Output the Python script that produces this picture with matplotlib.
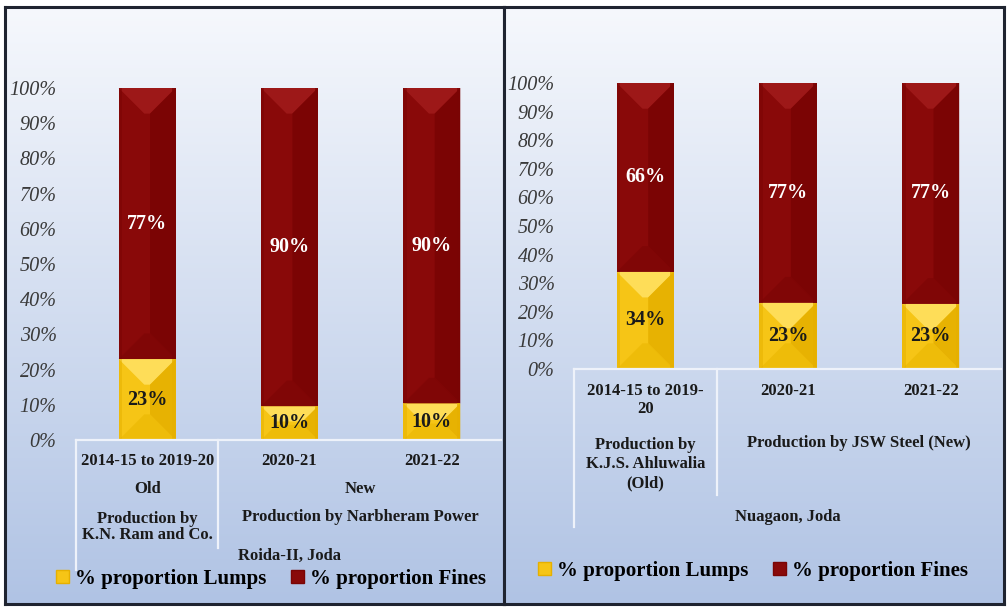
import numpy as np
import matplotlib
matplotlib.use("Agg")
import matplotlib.pyplot as plt
from matplotlib.patches import Polygon, Patch
from matplotlib.lines import Line2D
import matplotlib.transforms as mtransforms

# ---------------- data ----------------
years_left = ["2014-15 to 2019-20", "2020-21", "2021-22"]
lumps_left = [23, 9.6, 10.4]
fines_left = [77, 90.4, 89.6]
lumps_left_lbl = ["23%", "10%", "10%"]
fines_left_lbl = ["77%", "90%", "90%"]
group_left = ["Old", "New"]
producer_left = ["Production by\nK.N. Ram and Co.", "Production by Narbheram Power"]
mine_left = "Roida-II, Joda"

years_right = ["2014-15 to 2019-\n20", "2020-21", "2021-22"]
lumps_right = [34, 23.2, 22.8]
fines_right = [66, 76.8, 77.2]
lumps_right_lbl = ["34%", "23%", "23%"]
fines_right_lbl = ["66%", "77%", "77%"]
producer_right = ["Production by\nK.J.S. Ahluwalia\n(Old)", "Production by JSW Steel (New)"]
mine_right = "Nuagaon, Joda"

yticks = [0, 10, 20, 30, 40, 50, 60, 70, 80, 90, 100]
series_names = ["% proportion Lumps", "% proportion Fines"]

# ---------------- style ----------------
W, H = 1007, 610
SERIF = ["Liberation Serif", "DejaVu Serif"]
RED = "#890909"
RED_LIGHT = "#a01a1a"
RED_DARK = "#7a0404"
RED_DARKER = "#800606"
GOLD = "#f6c516"
GOLD_LIGHT = "#ffe060"
GOLD_DARK = "#e6b000"
GOLD_DARKER = "#eebb08"
TXT = "#1a1a1a"

fig = plt.figure(figsize=(W / 100, H / 100), dpi=100)
fig.patch.set_facecolor("white")


def fx(px):
    return px / W


def fy(py):
    return 1 - py / H


def panel(x0, x1, y0, y1):
    bg = fig.add_axes([fx(x0), fy(y1), fx(x1) - fx(x0), fy(y0) - fy(y1)], zorder=0)
    grad = np.linspace(0, 1, 256).reshape(-1, 1)
    top = np.array([0.965, 0.973, 0.99])
    bot = np.array([0.69, 0.765, 0.895])
    img = top[None, None, :] * (1 - grad[..., None]) + bot[None, None, :] * grad[..., None]
    bg.imshow(img, aspect="auto", extent=[0, 1, 0, 1], origin="upper")
    bg.set_xlim(0, 1)
    bg.set_ylim(0, 1)
    bg.set_xticks([])
    bg.set_yticks([])
    for s in bg.spines.values():
        s.set_color("#1f2430")
        s.set_linewidth(2.2)
    return bg


def bevel(ax, rects, base, light, dark, darker):
    inv = ax.transData.inverted()
    for r in rects:
        x, y = r.get_x(), r.get_y()
        w, h = r.get_width(), r.get_height()
        (px0, py0) = ax.transData.transform((x, y))
        (px1, py1) = ax.transData.transform((x + w, y + h))
        wp, hp = px1 - px0, py1 - py0
        d = min(wp / 2, hp / 2) * 0.9
        cx = (px0 + px1) / 2
        top = [(px0, py1), (px1, py1), (cx + wp / 2 - d, py1 - d), (cx - wp / 2 + d, py1 - d)]
        bottom = [(px0, py0), (px1, py0), (cx + wp / 2 - d, py0 + d), (cx - wp / 2 + d, py0 + d)]
        right = [(px1, py0), (px1, py1), (px1 - d, py1 - d), (px1 - d, py0 + d)]
        for pts, col in [(top, light), (bottom, darker), (right, dark)]:
            dp = inv.transform(pts)
            ax.add_patch(Polygon(dp, closed=True, facecolor=col, edgecolor="none",
                                 alpha=0.9, zorder=3))
        # thin edge shading
        for frac, col, a in [(0.0, dark, 0.5), (0.94, dark, 0.8)]:
            sx0 = px0 + frac * wp
            sx1 = sx0 + 0.06 * wp
            dp = inv.transform([(sx0, py0), (sx1, py0), (sx1, py1), (sx0, py1)])
            ax.add_patch(Polygon(dp, closed=True, facecolor=col, edgecolor="none",
                                 alpha=a, zorder=3.1))


def chart(ax, lumps, fines, lumps_lbl, fines_lbl):
    x = np.arange(len(lumps))
    ax.set_xlim(-0.5, len(lumps) - 0.5)
    ax.set_ylim(0, 100)
    b1 = ax.bar(x, lumps, width=0.4, color=GOLD, edgecolor="none", zorder=2)
    b2 = ax.bar(x, fines, width=0.4, bottom=lumps, color=RED, edgecolor="none", zorder=2)
    bevel(ax, b1, GOLD, GOLD_LIGHT, GOLD_DARK, GOLD_DARKER)
    bevel(ax, b2, RED, RED_LIGHT, RED_DARK, RED_DARKER)
    for xi, lo, lab in zip(x, lumps, lumps_lbl):
        ax.text(xi, lo / 2, lab, ha="center", va="center", fontsize=14.5,
                fontweight="bold", family=SERIF, color=TXT, zorder=5)
    for xi, lo, hi, lab in zip(x, lumps, fines, fines_lbl):
        ax.text(xi, lo + hi / 2, lab, ha="center", va="center", fontsize=14.5,
                fontweight="bold", family=SERIF, color="white", zorder=5)
    ax.set_yticks(yticks)
    ax.set_yticklabels([f"{t}%" for t in yticks], fontsize=14.5, fontstyle="italic",
                       family=SERIF, color="#3a3a3a")
    ax.tick_params(axis="y", length=0, pad=14)
    ax.set_xticks([])
    for s in ax.spines.values():
        s.set_visible(False)
    ax.patch.set_alpha(0)


LINE = "#eef2fa"

# ---------------- left panel ----------------
panel(5, 504, 7, 604)
axL = fig.add_axes([fx(76), fy(440), fx(503) - fx(76), fy(88) - fy(440)], zorder=2)
chart(axL, lumps_left, fines_left, lumps_left_lbl, fines_left_lbl)
trL = mtransforms.blended_transform_factory(axL.transData, fig.transFigure)
kw = dict(ha="center", va="center", fontsize=12, fontweight="bold", family=SERIF,
          color=TXT, transform=trL, linespacing=1.05)
for i, t in enumerate(years_left):
    fig.text(i, fy(461), t, **kw)
fig.text(0, fy(489), group_left[0], **kw)
fig.text(1.5, fy(489), group_left[1], **kw)
fig.text(0, fy(527), producer_left[0], **kw)
fig.text(1.5, fy(517), producer_left[1], **kw)
fig.text(1, fy(556), mine_left, **kw)
for xs, ys in [([fx(76), fx(501)], [fy(440), fy(440)]),
               ([fx(76), fx(76)], [fy(440), fy(570)]),
               ([fx(218), fx(218)], [fy(440), fy(548)])]:
    fig.add_artist(Line2D(xs, ys, color=LINE, lw=1.6, zorder=3))

handles = [Patch(facecolor=GOLD, edgecolor=GOLD_DARK), Patch(facecolor=RED, edgecolor=RED_DARK)]
legL = fig.legend(handles, series_names, loc="center", bbox_to_anchor=(fx(271), fy(579)),
                  ncol=2, frameon=False, handlelength=0.6, handleheight=0.6,
                  handletextpad=0.3, columnspacing=1.2,
                  prop={"family": SERIF, "weight": "bold", "size": 15})
legL.set_zorder(6)

# ---------------- right panel ----------------
panel(504, 1004, 7, 604)
axR = fig.add_axes([fx(574), fy(369), fx(1002) - fx(574), fy(83) - fy(369)], zorder=2)
chart(axR, lumps_right, fines_right, lumps_right_lbl, fines_right_lbl)
trR = mtransforms.blended_transform_factory(axR.transData, fig.transFigure)
kw["transform"] = trR
fig.text(0, fy(400), years_right[0], **dict(kw, linespacing=1.15))
fig.text(1, fy(391), years_right[1], **kw)
fig.text(2, fy(391), years_right[2], **kw)
fig.text(0, fy(464), producer_right[0], **dict(kw, linespacing=1.25))
fig.text(1.5, fy(443), producer_right[1], **kw)
fig.text(1, fy(517), mine_right, **kw)
for xs, ys in [([fx(574), fx(1001)], [fy(369), fy(369)]),
               ([fx(574), fx(574)], [fy(369), fy(527)]),
               ([fx(717), fx(717)], [fy(369), fy(495)])]:
    fig.add_artist(Line2D(xs, ys, color=LINE, lw=1.6, zorder=3))

legR = fig.legend(handles, series_names, loc="center", bbox_to_anchor=(fx(753), fy(571)),
                  ncol=2, frameon=False, handlelength=0.6, handleheight=0.6,
                  handletextpad=0.3, columnspacing=1.2,
                  prop={"family": SERIF, "weight": "bold", "size": 15})
legR.set_zorder(6)

fig.savefig("out.png", dpi=100)
